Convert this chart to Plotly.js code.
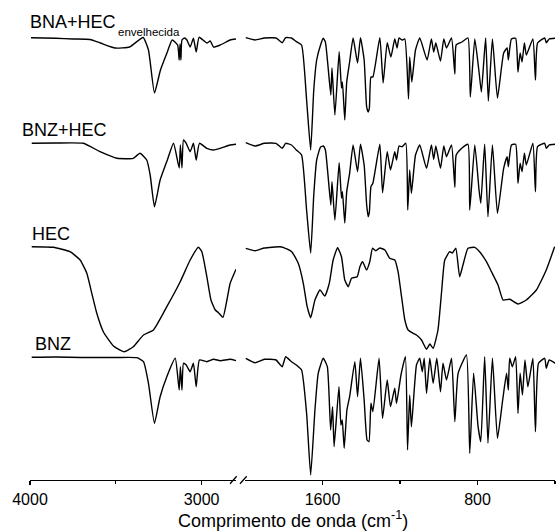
<!DOCTYPE html>
<html>
<head>
<meta charset="utf-8">
<script src="https://cdn.plot.ly/plotly-3.0.1.min.js"></script>
<style>html,body{margin:0;padding:0;background:#fff;}#chart{width:557px;height:531px;}</style>
</head>
<body>
<div id="chart"></div>
<script>
// Wavenumber (cm-1) and relative transmittance (arbitrary, stacked)
// ---- BNA+HEC envelhecida ----
const bnaHecWnHigh = [3994,3850,3750,3650,3590,3504,3420,3341,3310,3275,3240,3200,3172,3140,3131,3126,3121,3115,3100,3086,3067,3048,3032,3015,2970,2950,2931,2892,2834,2800];
const bnaHecHigh   = [442.3,441.7,441,440.5,437,432,433,442.5,430,387,410,428,440,435,420,436,420,440,442,440,433,441.7,428,442.7,437,439,433,435,440,441];
const bnaHecWnLow = [1996,1948,1900,1840,1808,1790,1760,1735,1708,1682,1661,1645,1630,1610,1596,1585,1557,1551,1536,1514,1502,1497,1485,1475,1460,1442,1419,1404,1385,1372,1364,1358,1350,1340,1304,1287,1266,1247,1227,1215,1205,1190,1175,1156,1150,1139,1120,1098,1060,1038,1026,1015,991,974,960,934,917,910,880,849,837,814,792,780,758,744,723,697,665,647,641,625,603,591,580,570,558,548,514,501,490,453,445,430,398];
const bnaHecLow   = [442.3,440,442,442,437.3,442.3,442,438.3,435,380,330,390,420,435,441.7,438,385,412,365,428.3,392,398,360,398,418,442,417,442.3,420,373,368,372,403,403,442.3,397,437.3,423,441,432,442,440,441,381,423,398,430,442,420,441,428,437,419,441,432,442,406,435,438,442,383,441,408,388,442,379,441,382,427,432,420,441,441.7,408,427,418,437,425,441,400,437,442,437.3,441,441.7];
// ---- BNZ+HEC ----
const bnzHecWnHigh = [3990,3850,3689,3592,3493,3399,3359,3320,3300,3275,3242,3200,3164,3131,3124,3115,3106,3090,3067,3048,3032,3013,2970,2931,2892,2834,2800];
const bnzHecHigh   = [336.7,337,336.7,328.3,321.7,321.7,326.7,320,305,273.3,300,320,336.7,312,335,312,340,336.7,328.3,336.7,320,336.7,331.7,330,331.7,335,335.7];
const bnzHecWnLow = [1996,1948,1900,1840,1808,1790,1760,1735,1708,1682,1661,1645,1630,1610,1596,1585,1557,1551,1536,1514,1502,1497,1485,1475,1460,1442,1419,1404,1385,1372,1364,1358,1350,1340,1304,1290,1266,1249,1227,1218,1205,1190,1170,1160,1150,1141,1120,1098,1063,1038,1026,1015,991,974,960,934,917,910,880,849,840,814,792,783,763,746,723,697,665,647,641,625,603,591,580,570,558,548,514,501,490,453,445,430,398];
const bnzHecLow   = [337.3,334,336.7,336.7,331.7,336.7,335,330,325,270,227,285,320,333,334,330,275,298.3,260,317.3,282,288.3,257,288.3,306.7,335,308.3,335.7,315,275,263.3,268,293.3,296.7,335.7,287.3,328.3,310,328.3,320,334,333.3,336.7,270,310,286.7,325,335,311.7,335,320.7,334,311.7,334,323.3,335,292.7,325,332,335.7,270,335,290,276.7,335.7,263.3,335,266.7,311.7,323.3,313.3,335,335.7,296.7,316.7,308.3,326.7,315,336.7,288.3,333.3,336.7,331.7,335,335.7];
// ---- HEC ----
const hecWnHigh = [3990,3864,3767,3708,3669,3640,3611,3573,3514,3452,3398,3339,3281,3203,3125,3067,3019,2999,2970,2946,2921,2902,2876,2853,2834,2800];
const hecHigh   = [233.3,232.7,228.3,220,206.7,186.7,166.7,148.3,134,128.3,133.3,145,150,173.3,198.3,220,232.7,228.3,203.3,180,170,167.3,162.7,180,196.7,210.7];
const hecWnLow = [1996,1948,1900,1820,1803,1759,1725,1699,1679,1661,1639,1613,1588,1565,1545,1522,1502,1485,1467,1450,1421,1407,1393,1373,1356,1342,1325,1304,1278,1253,1227,1210,1192,1175,1158,1132,1115,1089,1063,1046,1029,1004,986,969,943,930,912,892,875,849,814,789,754,728,694,668,634,591,548,496,445,402];
const hecLow   = [231.7,229.3,232,233.3,232.7,228.3,216.7,196.7,173.3,162.3,180,190,184,196.7,220,232.3,223.3,200,193.3,201.7,203.3,213.3,218.3,210,218.3,231.7,229.3,232,230,221.7,220,208.3,183.3,160,150,146.7,145,140,130.7,136,131.7,150,186.7,220,228.3,227,231.7,203.3,215,231.7,232.7,228.3,218.3,208.3,195,180,180.7,176,180,190,210,233.3];
// ---- BNZ ----
const bnzWnHigh = [3990,3850,3700,3500,3378,3339,3310,3275,3242,3203,3154,3131,3124,3115,3106,3090,3067,3048,3032,3013,2970,2931,2892,2834,2800];
const bnzHigh   = [122.7,123,122.5,122.5,122.3,118.3,96.7,56.7,83.3,103.3,121.7,90,113.3,90,116.7,115,108.3,116.7,93.3,120,118.3,120.7,119.3,120.7,119.3];
const bnzWnLow = [1996,1948,1900,1840,1808,1790,1760,1735,1708,1682,1661,1639,1622,1596,1575,1558,1548,1540,1515,1505,1498,1488,1474,1460,1433,1419,1404,1385,1370,1360,1350,1340,1308,1290,1266,1249,1227,1218,1195,1172,1161,1150,1141,1115,1098,1085,1075,1063,1046,1029,1010,991,978,960,934,917,900,857,840,820,797,783,763,746,723,697,670,650,641,634,620,603,591,580,568,555,540,514,501,485,453,445,430,398];
const bnzLow   = [121.7,117.3,120.7,120,113.3,123.3,118.3,115,110,66.7,5,70,106.7,121.7,113.3,50,73.3,33.3,93.3,55,60,31.7,70,83.3,118.3,83.3,121.7,80,40,38.3,76.7,68.3,121.7,61.7,100,73.3,91.7,76.7,105,123.3,30,85,53.3,115,121.7,108.3,121.7,86.7,121.7,96.7,121.7,88.3,116.7,100,121.7,58.3,106.7,125,26.7,106.7,53.3,38.3,123.3,36.7,121.7,41.7,80,106.7,90,121.7,113.3,123.3,66.7,106.7,85,120,93.3,121.7,48.3,116.7,121.7,111.7,120,116.7];

const labels = ['BNA+HEC', 'BNZ+HEC', 'HEC', 'BNZ'];
const labelSub = 'envelhecida';
const ticksHigh = [4000, 3000];
const ticksLow = [1600, 800];
const minorHigh = [3500];
const minorLow = [1200, 400];

const series = [
  [bnaHecWnHigh, bnaHecHigh, bnaHecWnLow, bnaHecLow],
  [bnzHecWnHigh, bnzHecHigh, bnzHecWnLow, bnzHecLow],
  [hecWnHigh, hecHigh, hecWnLow, hecLow],
  [bnzWnHigh, bnzHigh, bnzWnLow, bnzLow]
];
const lineStyle = {color: '#000', width: 1.4, shape: 'spline', smoothing: 0.45};
const data = [];
series.forEach((s, i) => {
  data.push({x: s[0], y: s[1], xaxis: 'x', yaxis: 'y', mode: 'lines', line: lineStyle, name: labels[i], hoverinfo: 'skip'});
  data.push({x: s[2], y: s[3], xaxis: 'x2', yaxis: 'y', mode: 'lines', line: lineStyle, name: labels[i], hoverinfo: 'skip'});
});

const font = {family: '"Liberation Sans", Arial, sans-serif', color: '#000'};
const axBase = {
  showline: true, linecolor: '#000', linewidth: 1.3, ticks: 'outside', ticklen: 4, tickwidth: 1.3,
  tickcolor: '#000', showgrid: false, zeroline: false, tickmode: 'array',
  tickfont: Object.assign({size: 16}, font), anchor: 'y'
};
const lab = (text, x, y, size) => ({text: text, xref: 'paper', yref: 'paper', x: x, y: y, xanchor: 'left', yanchor: 'middle', showarrow: false, font: Object.assign({size: size}, font)});
const layout = {
  width: 557, height: 531,
  margin: {l: 30, r: 2, t: 10, b: 51},
  paper_bgcolor: '#fff', plot_bgcolor: '#fff',
  showlegend: false,
  xaxis: Object.assign({}, axBase, {domain: [0, 0.3924], range: [4000, 2800], tickvals: ticksHigh, ticktext: ticksHigh.map(String),
    minor: {tickmode: 'array', tickvals: minorHigh, ticks: 'outside', ticklen: 3, tickwidth: 1.3, tickcolor: '#000', showgrid: false}}),
  xaxis2: Object.assign({}, axBase, {domain: [0.4095, 1], range: [2000, 400], tickvals: ticksLow, ticktext: ticksLow.map(String),
    minor: {tickmode: 'array', tickvals: minorLow, ticks: 'outside', ticklen: 3, tickwidth: 1.3, tickcolor: '#000', showgrid: false}}),
  yaxis: {range: [0, 470], visible: false, fixedrange: true},
  annotations: [
    lab(labels[0], -0.004, 0.975, 18),
    lab(labelSub, 0.1632, 0.953, 11.5),
    lab(labels[1], -0.0196, 0.744, 18),
    lab(labels[2], 0.0006, 0.5234, 18),
    lab(labels[3], 0.0057, 0.2883, 18),
    {text: 'Comprimento de onda (cm<sup>-1</sup>)', xref: 'paper', yref: 'paper', x: 0.5, y: -0.085, xanchor: 'center', yanchor: 'middle', showarrow: false, font: Object.assign({size: 18}, font)}
  ],
  shapes: [
    {type: 'line', xref: 'paper', yref: 'paper', x0: 0.381, y0: -0.008, x1: 0.3937, y1: 0.008, line: {color: '#000', width: 1.3}},
    {type: 'line', xref: 'paper', yref: 'paper', x0: 0.4, y0: -0.008, x1: 0.4127, y1: 0.008, line: {color: '#000', width: 1.3}}
  ]
};
Plotly.newPlot('chart', data, layout, {staticPlot: true, displayModeBar: false});
</script>
</body>
</html>
